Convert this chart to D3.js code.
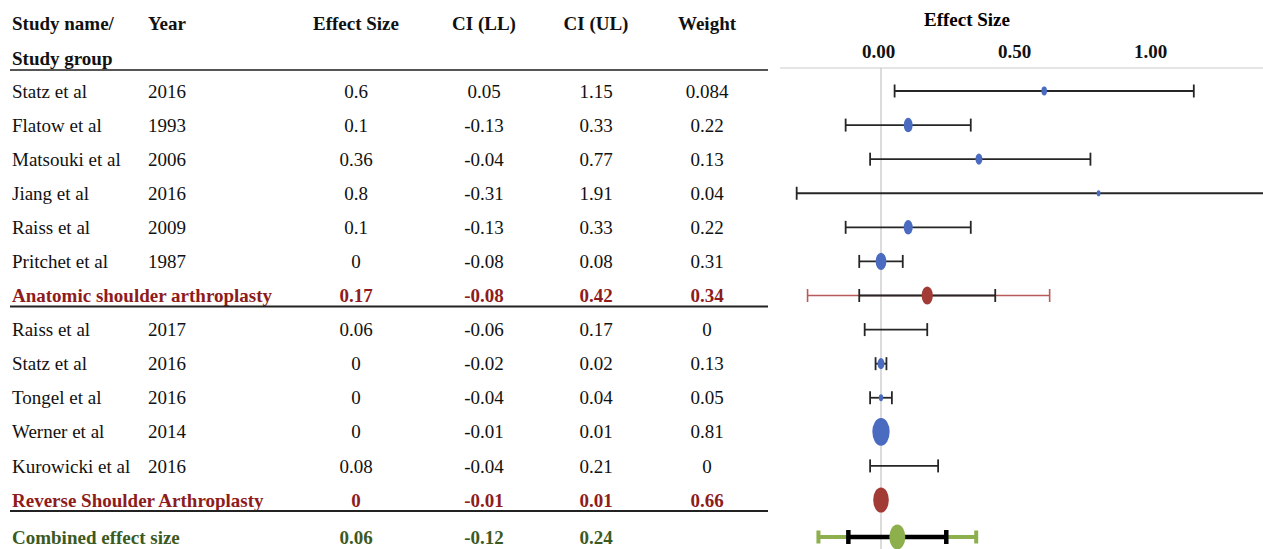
<!DOCTYPE html>
<html>
<head>
<meta charset="utf-8">
<script src="https://cdn.jsdelivr.net/npm/d3@7.9.0/dist/d3.min.js"></script>
<style>
  body { margin: 0; background: #fff; }
  svg text { font-family: "Liberation Serif", "Times New Roman", serif; font-size: 19px; }
</style>
</head>
<body>
<svg id="chart" width="1263" height="549"></svg>
<script>
// individual studies
const studyNames = ["Statz et al", "Flatow et al", "Matsouki et al", "Jiang et al", "Raiss et al", "Pritchet et al",
                    "Raiss et al", "Statz et al", "Tongel et al", "Werner et al", "Kurowicki et al"];
const studyYears = [2016, 1993, 2006, 2016, 2009, 1987, 2017, 2016, 2016, 2014, 2016];
const studyEffect = [0.6, 0.1, 0.36, 0.8, 0.1, 0, 0.06, 0, 0, 0, 0.08];
const studyLL = [0.05, -0.13, -0.04, -0.31, -0.13, -0.08, -0.06, -0.02, -0.04, -0.01, -0.04];
const studyUL = [1.15, 0.33, 0.77, 1.91, 0.33, 0.08, 0.17, 0.02, 0.04, 0.01, 0.21];
const studyWeight = [0.084, 0.22, 0.13, 0.04, 0.22, 0.31, 0, 0.13, 0.05, 0.81, 0];
const studyGroup = [0, 0, 0, 0, 0, 0, 1, 1, 1, 1, 1];

// subgroup summaries
const groupNames = ["Anatomic shoulder arthroplasty", "Reverse Shoulder Arthroplasty"];
const groupEffect = [0.17, 0];
const groupLL = [-0.08, -0.01];
const groupUL = [0.42, 0.01];
const groupWeight = [0.34, 0.66];
const groupPredLL = [-0.27, null];
const groupPredUL = [0.62, null];

// overall
const combinedName = "Combined effect size";
const combinedEffect = 0.06;
const combinedLL = -0.12;
const combinedUL = 0.24;
const combinedPredLL = -0.23;
const combinedPredUL = 0.35;

const axisTicks = [0, 0.5, 1];

const svg = d3.select('#chart');

// build the row list (studies, then the summary of each group)
let rows = [];
groupNames.forEach((g, gi) => {
  studyNames.forEach((n, i) => {
    if (studyGroup[i] !== gi) return;
    rows.push({ kind: 'study', name: n, year: studyYears[i], es: studyEffect[i], ll: studyLL[i], ul: studyUL[i], w: studyWeight[i] });
  });
  rows.push({ kind: 'group', name: g, es: groupEffect[gi], ll: groupLL[gi], ul: groupUL[gi], w: groupWeight[gi],
              pll: groupPredLL[gi], pul: groupPredUL[gi] });
});

let rowY = d3.scaleLinear().domain([0, rows.length - 1]).range([91, 500]);
rows.forEach((r, i) => r.y = rowY(i));
let combinedY = 537;

let x = d3.scaleLinear().domain([0, 1]).range([881, 1153]);
let r = d3.scaleSqrt().domain([0, 1]).range([0, 15.5]);

const red = '#8e1c1c';
const green = '#3c5a1f';

// ---------- table ----------
let head = svg.append('g').attr('font-weight', 'bold').attr('fill', '#111');
head.append('text').attr('x', 12).attr('y', 23).attr('dy', '0.35em').text('Study name/');
head.append('text').attr('x', 12).attr('y', 58).attr('dy', '0.35em').text('Study group');
head.append('text').attr('x', 148).attr('y', 23).attr('dy', '0.35em').text('Year');
let colX = [356, 484, 596, 707];
['Effect Size', 'CI (LL)', 'CI (UL)', 'Weight'].forEach((t, i) => {
  head.append('text').attr('x', colX[i]).attr('y', 23).attr('dy', '0.35em').attr('text-anchor', 'middle').text(t);
});

svg.append('line').attr('x1', 10).attr('x2', 768).attr('y1', 70).attr('y2', 70)
  .attr('stroke', '#555').attr('stroke-width', 2);

let rowG = svg.selectAll('g.row')
  .data(rows)
  .enter()
  .append('g')
  .attr('class', 'row')
  .attr('transform', d => `translate(0,${d.y})`)
  .attr('fill', d => d.kind === 'group' ? red : '#111')
  .attr('font-weight', d => d.kind === 'group' ? 'bold' : 'normal');

rowG.append('text').attr('x', 12).attr('dy', '0.35em').text(d => d.name);
rowG.filter(d => d.kind === 'study').append('text').attr('x', 148).attr('dy', '0.35em').text(d => d.year);
['es', 'll', 'ul', 'w'].forEach((k, i) => {
  rowG.append('text').attr('x', colX[i]).attr('dy', '0.35em').attr('text-anchor', 'middle').text(d => String(d[k]));
});

rows.filter(d => d.kind === 'group').forEach(d => {
  svg.append('line').attr('x1', 10).attr('x2', 768).attr('y1', d.y + 11).attr('y2', d.y + 11)
    .attr('stroke', '#222').attr('stroke-width', 2);
});

let comb = svg.append('g').attr('transform', `translate(0,${combinedY})`)
  .attr('fill', green).attr('font-weight', 'bold');
comb.append('text').attr('x', 12).attr('dy', '0.35em').text(combinedName);
[combinedEffect, combinedLL, combinedUL].forEach((v, i) => {
  comb.append('text').attr('x', colX[i]).attr('dy', '0.35em').attr('text-anchor', 'middle').text(String(v));
});

// ---------- forest plot ----------
svg.append('defs').append('clipPath').attr('id', 'plotclip')
  .append('rect').attr('x', 780).attr('y', 0).attr('width', 483).attr('height', 549);
let plot = svg.append('g').attr('clip-path', 'url(#plotclip)');

svg.append('text').attr('x', 967).attr('y', 19).attr('dy', '0.35em')
  .attr('text-anchor', 'middle').attr('font-weight', 'bold').attr('font-size', 17).text('Effect Size');

let axis = svg.append('g').attr('transform', 'translate(-3,60)')
  .call(d3.axisTop(x).tickValues(axisTicks).tickFormat(d3.format('.2f')).tickSize(0).tickPadding(2));
axis.select('.domain').remove();
axis.selectAll('text').attr('font-size', 18).attr('font-weight', 'bold').attr('fill', '#111')
  .attr('font-family', '"Liberation Serif", "Times New Roman", serif');

plot.append('line').attr('x1', 780).attr('x2', 1263).attr('y1', 68).attr('y2', 68)
  .attr('stroke', '#dcdcdc').attr('stroke-width', 1.5);
plot.append('line').attr('x1', x(0)).attr('x2', x(0)).attr('y1', 68).attr('y2', 549)
  .attr('stroke', '#c4c4c4').attr('stroke-width', 1.2);

function errorBar(g, y, lo, hi, color, width, capH) {
  g.append('line').attr('x1', x(lo)).attr('x2', x(hi)).attr('y1', y).attr('y2', y)
    .attr('stroke', color).attr('stroke-width', width);
  [lo, hi].forEach(v => {
    g.append('line').attr('x1', x(v)).attr('x2', x(v)).attr('y1', y - capH / 2).attr('y2', y + capH / 2)
      .attr('stroke', color).attr('stroke-width', width);
  });
}

rows.forEach(d => {
  if (d.kind === 'group' && d.pll != null) errorBar(plot, d.y, d.pll, d.pul, '#b85a5a', 1.6, 13);
  errorBar(plot, d.y, d.ll, d.ul, '#262626', 1.8, 13);
});

plot.selectAll('ellipse.mark')
  .data(rows.filter(d => d.w > 0))
  .enter()
  .append('ellipse')
  .attr('class', 'mark')
  .attr('cx', d => x(d.es))
  .attr('cy', d => d.y)
  .attr('rx', d => r(d.w) * 0.62)
  .attr('ry', d => r(d.w))
  .attr('fill', d => d.kind === 'group' ? '#a23a36' : '#4a6bbf');

errorBar(plot, combinedY, combinedPredLL, combinedPredUL, '#8daf4c', 4, 13);
errorBar(plot, combinedY, combinedLL, combinedUL, '#000', 4.5, 14);
plot.append('ellipse').attr('cx', x(combinedEffect)).attr('cy', combinedY)
  .attr('rx', 8).attr('ry', 12.5).attr('fill', '#8daf4c');
</script>
</body>
</html>
